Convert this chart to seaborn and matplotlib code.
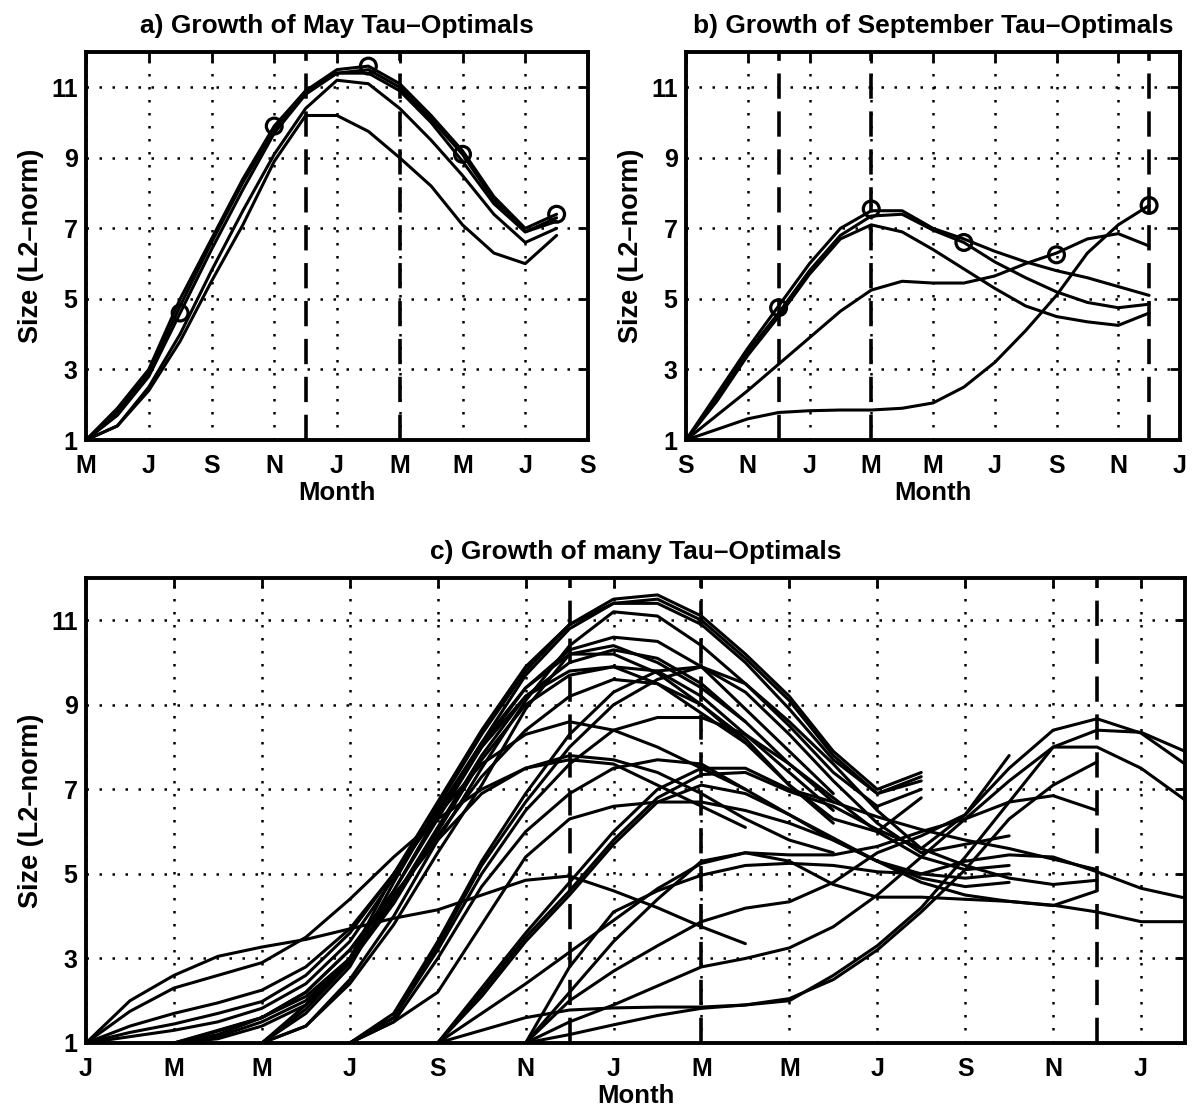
import matplotlib
matplotlib.use("Agg")
import matplotlib.pyplot as plt
import numpy as np
import pandas as pd
import seaborn as sns

# ---------------- data ----------------
ticks_a = ['M', 'J', 'S', 'N', 'J', 'M', 'M', 'J', 'S']
ticks_b = ['S', 'N', 'J', 'M', 'M', 'J', 'S', 'N', 'J']
ticks_c = ['J', 'M', 'M', 'J', 'S', 'N', 'J', 'M', 'M', 'J', 'S', 'N', 'J']
y_ticks = [1, 3, 5, 7, 9, 11]

tau_months = [3, 6, 9, 12, 15]
may_circles = [4.6, 9.9, 11.6, 9.1, 7.4]
sep_circles = [4.75, 7.55, 6.6, 6.25, 7.65]

dashed_a = [7, 10]
dashed_b = [3, 6, 15]
dashed_c = [11, 14, 23]

# growth curves, monthly values (15 months after the start month)
jan_curves = [
    [1, 2.0, 2.6, 3.05, 3.27, 3.45, 3.7, 3.95, 4.15, 4.5, 4.85, 4.95, 4.6, 4.2, 3.75, 3.35],
    [1, 1.75, 2.3, 2.6, 2.9, 3.5, 4.4, 5.4, 6.3, 7.0, 7.5, 7.7, 7.6, 7.1, 6.6, 6.1],
    [1, 1.4, 1.7, 1.95, 2.25, 2.8, 3.7, 5.0, 6.4, 7.6, 8.3, 8.6, 8.4, 8.0, 7.5, 7.0],
    [1, 1.25, 1.45, 1.7, 1.98, 2.6, 3.6, 5.0, 6.5, 8.0, 9.2, 9.8, 9.9, 9.5, 8.8, 8.1],
    [1, 1.15, 1.3, 1.5, 1.82, 2.4, 3.4, 4.9, 6.5, 8.1, 9.4, 10.2, 10.4, 10.0, 9.4, 8.6],
]
mar_curves = [
    [1, 1.2, 1.6, 2.2, 3.2, 4.6, 6.3, 8.0, 9.4, 10.3, 10.6, 10.5, 9.9, 8.9, 7.9, 6.9],
    [1, 1.15, 1.5, 2.0, 3.0, 4.4, 6.1, 7.8, 9.2, 10.0, 10.3, 10.1, 9.5, 8.6, 7.6, 6.7],
    [1, 1.1, 1.4, 1.9, 2.9, 4.3, 6.0, 7.7, 9.0, 9.7, 9.9, 9.8, 9.2, 8.3, 7.4, 6.5],
    [1, 1.3, 1.6, 2.1, 3.0, 4.4, 5.9, 7.3, 8.4, 9.2, 9.6, 9.5, 9.0, 8.1, 7.1, 6.2],
    [1, 1.28, 1.6, 2.2, 3.2, 4.5, 5.8, 6.9, 7.5, 7.8, 7.7, 7.4, 6.9, 6.3, 5.8, 5.5],
]
may_curves = [
    [1, 1.9, 3.0, 5.0, 6.7, 8.4, 9.9, 10.9, 11.5, 11.6, 11.1, 10.2, 9.2, 7.9, 7.0, 7.4],
    [1, 1.8, 2.9, 4.8, 6.6, 8.3, 9.8, 10.9, 11.4, 11.5, 11.0, 10.1, 9.1, 7.8, 6.9, 7.2],
    [1, 1.7, 2.8, 4.6, 6.4, 8.1, 9.7, 10.8, 11.4, 11.4, 10.9, 10.0, 8.9, 7.7, 6.9, 7.3],
    [1, 1.4, 2.5, 4.0, 5.8, 7.5, 9.1, 10.4, 11.2, 11.1, 10.4, 9.5, 8.5, 7.4, 6.6, 7.0],
    [1, 1.4, 2.4, 3.8, 5.5, 7.1, 8.9, 10.2, 10.2, 9.75, 9.0, 8.2, 7.1, 6.3, 6.0, 6.8],
]
jul_curves = [
    [1, 1.7, 3.4, 5.3, 6.9, 8.3, 9.3, 9.8, 9.9, 9.5, 8.6, 7.6, 6.5, 5.6, 6.4, 7.8],
    [1, 1.6, 3.3, 5.2, 6.7, 8.0, 9.0, 9.6, 9.9, 9.3, 8.3, 7.2, 6.2, 5.5, 5.7, 5.9],
    [1, 1.6, 3.2, 5.0, 6.5, 7.6, 8.4, 8.7, 8.7, 8.3, 7.6, 6.8, 6.0, 5.4, 5.1, 5.2],
    [1, 1.5, 3.0, 4.7, 6.0, 6.9, 7.5, 7.7, 7.6, 7.0, 6.4, 5.8, 5.3, 5.0, 4.9, 5.0],
    [1, 1.5, 2.2, 3.8, 5.4, 6.3, 6.6, 6.7, 6.7, 6.5, 6.2, 5.8, 5.3, 4.9, 4.7, 4.8],
]
sep_curves = [
    [1, 2.3, 3.6, 4.8, 6.0, 7.0, 7.5, 7.5, 7.0, 6.7, 6.35, 6.05, 5.8, 5.6, 5.35, 5.1],
    [1, 2.2, 3.5, 4.6, 5.8, 6.8, 7.35, 7.4, 6.95, 6.6, 6.05, 5.6, 5.2, 4.9, 4.75, 4.85],
    [1, 2.1, 3.4, 4.5, 5.7, 6.7, 7.1, 6.9, 6.4, 5.85, 5.3, 4.8, 4.5, 4.35, 4.25, 4.6],
    [1, 1.7, 2.4, 3.15, 3.9, 4.65, 5.25, 5.5, 5.45, 5.45, 5.65, 6.0, 6.3, 6.7, 6.85, 6.5],
    [1, 1.3, 1.6, 1.78, 1.83, 1.85, 1.85, 1.9, 2.05, 2.5, 3.2, 4.1, 5.1, 6.3, 7.1, 7.65],
]
nov_curves = [
    [1, 2.0, 2.7, 3.3, 3.87, 4.19, 4.34, 4.8, 5.5, 5.9, 6.4, 7.5, 8.4, 8.67, 8.33, 7.6],
    [1, 1.5, 1.9, 2.35, 2.8, 3.0, 3.25, 3.75, 4.5, 5.4, 6.3, 7.2, 8.0, 8.4, 8.35, 7.9],
    [1, 1.2, 1.43, 1.65, 1.82, 1.9, 2.0, 2.6, 3.3, 4.2, 5.4, 6.7, 8.0, 8.0, 7.5, 6.75],
    [1, 2.8, 4.1, 4.6, 4.97, 5.2, 5.25, 5.2, 5.05, 5.0, 5.3, 5.45, 5.4, 5.05, 4.66, 4.43],
    [1, 2.2, 3.4, 4.4, 5.3, 5.5, 5.3, 4.75, 4.45, 4.45, 4.4, 4.35, 4.26, 4.1, 3.87, 3.87],
]

group_starts = {'jan': 0, 'mar': 2, 'may': 4, 'jul': 6, 'sep': 8, 'nov': 10}
groups = {'jan': jan_curves, 'mar': mar_curves, 'may': may_curves,
          'jul': jul_curves, 'sep': sep_curves, 'nov': nov_curves}


def to_frame(named_groups, starts):
    rows = []
    for name, curves in named_groups.items():
        s0 = starts[name]
        for i, vals in enumerate(curves):
            for k, v in enumerate(vals):
                rows.append({'curve': f'{name}{i}', 'month': s0 + k, 'size': v})
    return pd.DataFrame(rows)


df_a = to_frame({'may': may_curves}, {'may': 0})
df_b = to_frame({'sep': sep_curves}, {'sep': 0})
df_c = to_frame(groups, group_starts)

# ---------------- style ----------------
sns.set_theme(style='white')
plt.rcParams['font.family'] = ['Liberation Sans', 'DejaVu Sans']
plt.rcParams['font.weight'] = 'bold'
plt.rcParams['axes.labelweight'] = 'bold'
plt.rcParams['axes.titleweight'] = 'bold'
plt.rcParams['text.color'] = 'black'
plt.rcParams['axes.labelcolor'] = 'black'
plt.rcParams['xtick.color'] = 'black'
plt.rcParams['ytick.color'] = 'black'

W, H = 1197, 1111
fig = plt.figure(figsize=(W / 100, H / 100), dpi=100)
fig.patch.set_facecolor('white')

ax_a = fig.add_axes([86 / W, 1 - 440 / H, 502 / W, 388 / H])
ax_b = fig.add_axes([686 / W, 1 - 440 / H, 494 / W, 388 / H])
ax_c = fig.add_axes([86 / W, 1 - 1043 / H, 1099 / W, 465 / H])


def style_ax(ax, labels, xmax, title):
    ax.set_xlim(0, xmax)
    ax.set_ylim(1, 12)
    ax.set_xticks(list(range(0, 2 * len(labels), 2)))
    ax.set_xticklabels(labels)
    ax.set_yticks(y_ticks)
    ax.set_yticklabels([str(t) for t in y_ticks])
    ax.grid(True, color='black', linestyle=(0, (1, 4.2)), linewidth=1.8)
    ax.set_axisbelow(True)
    ax.tick_params(direction='in', length=7, width=2, top=True, right=True,
                   labelsize=18, colors='black')
    ax.tick_params(axis='x', pad=10)
    ax.tick_params(axis='y', pad=6)
    for t in ax.get_xticklabels() + ax.get_yticklabels():
        t.set_fontweight('bold')
        t.set_color('black')
    for sp in ax.spines.values():
        sp.set_linewidth(2.8)
        sp.set_color('black')
    ax.set_xlabel('Month', fontsize=18.5, fontweight='bold', labelpad=2, color='black')
    ax.set_ylabel('Size (L2\u2013norm)', fontsize=19.5, fontweight='bold', labelpad=5,
                  color='black')
    ax.set_title(title, fontsize=19, fontweight='bold', pad=14, color='black')


def draw_lines(ax, df, dashes):
    for d in dashes:
        ax.axvline(d, color='black', lw=2.6, linestyle=(0, (7, 3.5)), zorder=2)
    sns.lineplot(data=df, x='month', y='size', units='curve', estimator=None,
                 color='black', lw=2.2, sort=False, legend=False, ax=ax, zorder=3)


draw_lines(ax_a, df_a, dashed_a)
sns.scatterplot(x=tau_months, y=may_circles, s=130, marker='o', facecolors='none',
                edgecolors='black', linewidths=2.3, ax=ax_a, zorder=5, legend=False)
style_ax(ax_a, ticks_a, 16, 'a) Growth of May Tau\u2013Optimals')

draw_lines(ax_b, df_b, dashed_b)
sns.scatterplot(x=tau_months, y=sep_circles, s=130, marker='o', facecolors='none',
                edgecolors='black', linewidths=2.3, ax=ax_b, zorder=5, legend=False)
style_ax(ax_b, ticks_b, 16, 'b) Growth of September Tau\u2013Optimals')

draw_lines(ax_c, df_c, dashed_c)
style_ax(ax_c, ticks_c, 25, 'c) Growth of many Tau\u2013Optimals')

fig.savefig('out.png', dpi=100, facecolor='white')
